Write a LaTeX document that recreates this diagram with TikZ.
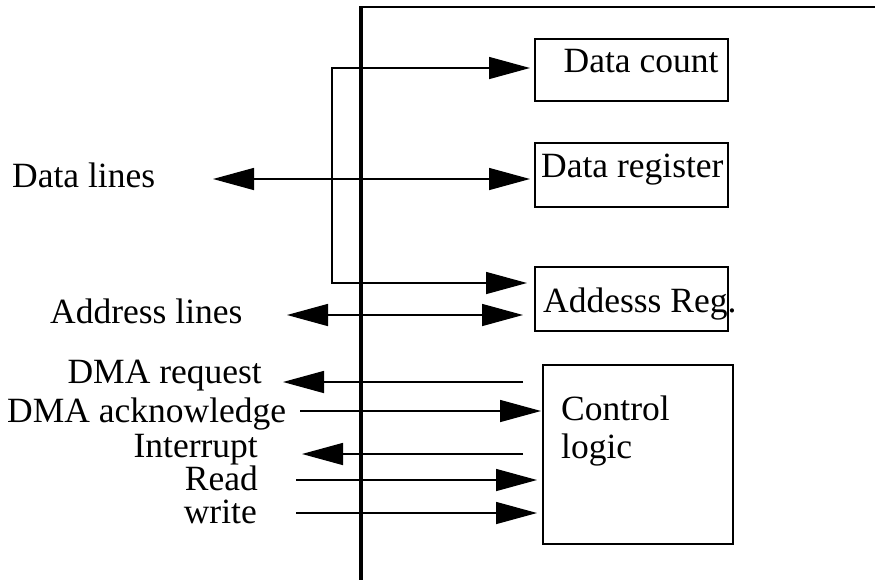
\documentclass[tikz,border=0pt]{standalone}
\usepackage{fontspec}
\setmainfont{Liberation Serif}
\usetikzlibrary{arrows.meta}
\begin{document}
\begin{tikzpicture}[x=1pt,y=-1pt,
  font=\fontsize{35.5}{38}\selectfont,
  ln/.style={line width=1.5pt},
  tip/.tip={Triangle[length=41pt,width=22pt]},
  arr/.style={ln,-tip},
  darr/.style={ln,tip-tip},
  box/.style={draw,line width=1.6pt,inner sep=0pt,anchor=north west},
  lbl/.style={inner sep=0pt}]
\useasboundingbox (0,0) rectangle (875,579);
% frame
\draw[line width=3.3pt] (361,580) -- (361,6);
\draw[line width=2pt] (359.4,7) -- (876,7);
% boxes
\node[box,minimum width=193pt,minimum height=62pt] (dc) at (534,38) {};
\node[box,minimum width=193pt,minimum height=64pt] (dr) at (534,142) {};
\node[box,minimum width=193pt,minimum height=64pt] (ar) at (534,266) {};
\node[box,minimum width=190pt,minimum height=179pt] (cl) at (542,364) {};
% box texts
\node[lbl,anchor=base] (tdc) at (641,72) {Data count};
\node[lbl,anchor=base west] (tdr) at (541,177) {Data register};
\node[lbl,anchor=base west] (tar) at (543,312) {Addesss Reg.};
\node[lbl,anchor=base west] (tcl1) at (561,420) {Control};
\node[lbl,anchor=base west] (tcl2) at (561,458) {logic};
% left labels
\node[lbl,anchor=base west] (ldata) at (12,187) {Data lines};
\node[lbl,anchor=base west] (laddr) at (50,323) {Address lines};
\node[lbl,anchor=base east] (lreq) at (262,383) {DMA request};
\node[lbl,anchor=base west] (lack) at (7,422) {DMA acknowledge};
\node[lbl,anchor=base east] (lint) at (258,457) {Interrupt};
\node[lbl,anchor=base east] (lrd) at (258,490) {Read};
\node[lbl,anchor=base east] (lwr) at (257,523) {write};
% connector end points
\coordinate (dcin) at (530,68);
\coordinate (arin1) at (527,283);
\coordinate (loopT) at (332,68);
\coordinate (loopB) at (332,283);
\coordinate (dlL) at (213,179);
\coordinate (dlR) at (530,179);
\coordinate (alL) at (287,315);
\coordinate (alR) at (523,315);
\coordinate (reqS) at (523,382);
\coordinate (reqE) at (283,382);
\coordinate (ackS) at (300,411);
\coordinate (ackE) at (541,411);
\coordinate (intS) at (523,454);
\coordinate (intE) at (302,454);
\coordinate (rdS) at (296,480);
\coordinate (rdE) at (537,480);
\coordinate (wrS) at (296,513);
\coordinate (wrE) at (537,513);
% connectors
\draw[darr] (dcin) -- (loopT) -- (loopB) -- (arin1);
\draw[darr] (dlL) -- (dlR);
\draw[darr] (alL) -- (alR);
\draw[arr] (reqS) -- (reqE);
\draw[arr] (ackS) -- (ackE);
\draw[arr] (intS) -- (intE);
\draw[arr] (rdS) -- (rdE);
\draw[arr] (wrS) -- (wrE);
\end{tikzpicture}
\end{document}
